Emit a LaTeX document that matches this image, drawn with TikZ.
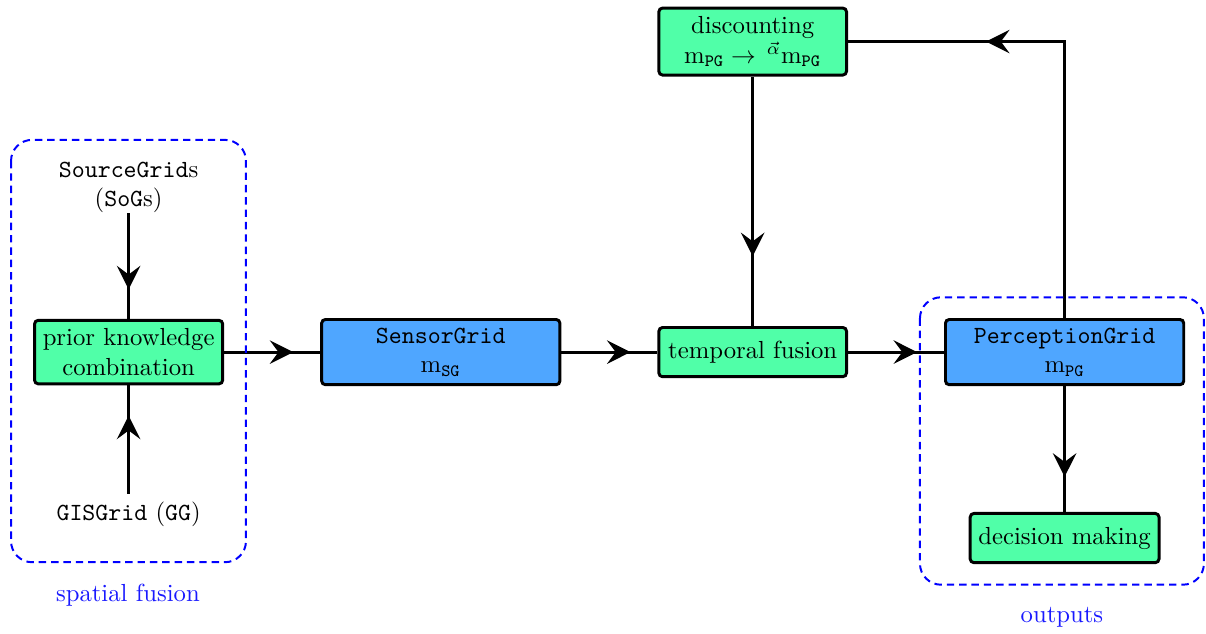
\documentclass[tikz,border=0pt]{standalone}
\usepackage{xcolor}
\usepackage{tikz}
\usetikzlibrary{arrows.meta,positioning,decorations.markings}
\definecolor{procgreen}{HTML}{50FFA8}
\definecolor{gridblue}{HTML}{4FA6FF}

\begin{document}
\begin{tikzpicture}[
    node distance=1.366cm,
    process/.style={rectangle, draw=black, fill=procgreen, align=center, rounded corners=1.5pt,
                    minimum width=2.67cm, minimum height=0.7cm, line width=1.2pt},
    gridbox/.style={process, fill=gridblue, minimum width=3.39cm},
    source/.style={align=center},
    flow/.style={line width=1.2pt, postaction={decorate},
                 decoration={markings, mark=at position 0.72 with {\arrow{Stealth[length=9.5pt,width=9.5pt,inset=3.5pt]}}}},
    group/.style={draw=blue, dash pattern=on 3pt off 2pt, line width=0.8pt, rounded corners=0.3cm},
    grouplabel/.style={text=blue!90}
]
    \useasboundingbox (0,0) rectangle (17.16,-9.01);

    \node[process] (prior) at (1.83,-5.01) {prior knowledge\\combination};
    \node[gridbox, right=of prior] (sensor) {\texttt{SensorGrid}\\$\mathrm{m}_{\mathtt{SG}}$};
    \node[process, right=of sensor] (temporal) {temporal fusion};
    \node[gridbox, right=of temporal] (perception) {\texttt{PerceptionGrid}\\$\mathrm{m}_{\mathtt{PG}}$};
    \node[process, below=1.79cm of perception] (decision) {decision making};
    \node[process, above=3.55cm of temporal] (discount) {discounting\\$\mathrm{m}_{\mathtt{PG}} \rightarrow\, {}^{\vec{\alpha}}\mathrm{m}_{\mathtt{PG}}$};
    \node[source, inner sep=0pt, above=1.50cm of prior] (sources) {\texttt{SourceGrid}s\\(\texttt{SoG}s)};
    \node[source, below=1.54cm of prior] (gis) {\texttt{GISGrid} (\texttt{GG})};

    \draw[flow] (sources) -- (prior);
    \draw[flow] (gis) -- (prior);
    \draw[flow] (prior) -- (sensor);
    \draw[flow] (sensor) -- (temporal);
    \draw[flow] (temporal) -- (perception);
    \draw[flow] (perception) -- (decision);
    \draw[flow] (discount) -- (temporal);
    \draw[flow] (perception.north) |- (discount.east);

    % groups
    \draw[group] (0.157,-1.99) rectangle (3.50,-8.00);
    \node[grouplabel] (spatiallabel) at (1.82,-8.47) {spatial fusion};
    \draw[group] (13.09,-4.23) rectangle (17.13,-8.32);
    \node[grouplabel] (outputlabel) at (15.11,-8.79) {outputs};
\end{tikzpicture}
\end{document}
